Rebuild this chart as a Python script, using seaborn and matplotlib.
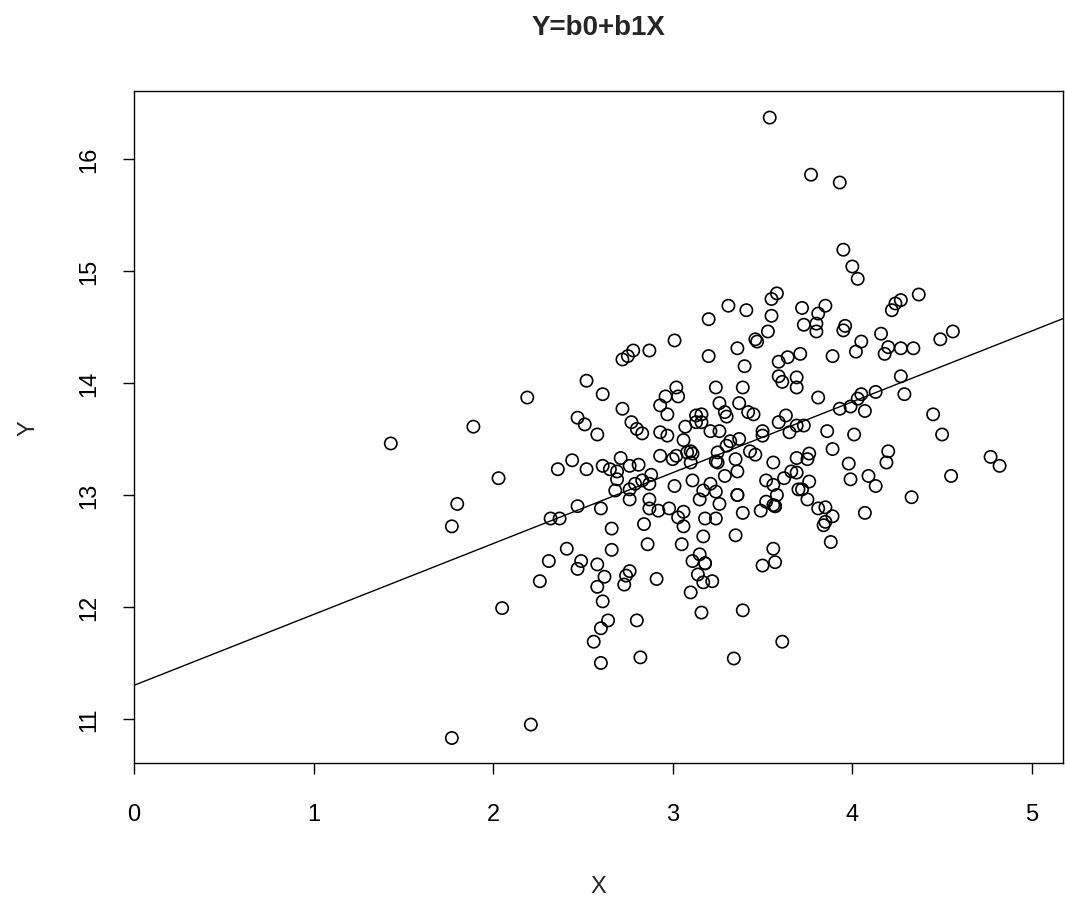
import numpy as np
import pandas as pd
import matplotlib
matplotlib.use("Agg")
import matplotlib.pyplot as plt
import seaborn as sns

# values
x = [3.54, 3.77, 3.93, 3.95, 4.00, 4.03, 4.37, 4.27, 4.24, 4.22,
     3.72, 3.85, 3.81, 3.73, 3.80, 3.80, 3.96, 3.95, 4.16, 4.56,
     4.49, 4.05, 4.02, 4.20, 4.18, 4.27, 4.34, 3.71, 3.89, 3.69,
     3.69, 3.81, 4.27, 4.29, 4.13, 4.05, 4.03, 3.99, 3.93, 4.07,
     4.45, 3.69, 3.73, 3.58, 3.55, 3.31, 3.41, 3.20, 3.55, 3.53,
     3.01, 3.46, 3.47, 2.78, 2.75, 2.72, 2.87, 3.20, 3.36, 3.40,
     3.64, 3.59, 2.52, 2.61, 3.02, 3.03, 2.96, 2.93, 3.24, 3.39,
     3.59, 3.61, 2.72, 2.97, 3.26, 3.29, 3.30, 3.37, 3.42, 3.45,
     3.13, 3.16, 3.13, 3.16, 2.77, 3.63, 3.59, 3.07, 2.19, 1.89,
     2.47, 2.51, 1.43, 2.03, 1.80, 1.77, 2.36, 2.44, 2.52, 2.47,
     2.32, 2.37, 2.41, 2.31, 2.49, 2.47, 2.26, 2.05, 2.21, 1.77,
     2.58, 2.62, 2.73, 2.91, 3.10, 3.17, 3.22, 2.61, 3.16, 3.39,
     2.64, 2.60, 2.80, 2.56, 3.61, 2.82, 3.34, 2.60, 2.58, 2.80,
     2.83, 2.93, 2.97, 3.06, 3.21, 3.26, 3.50, 3.50, 3.65, 3.32,
     3.37, 3.30, 3.43, 3.46, 2.93, 3.00, 3.02, 3.08, 3.10, 3.11,
     3.25, 3.24, 3.25, 3.35, 3.36, 3.56, 3.69, 2.61, 2.65, 2.71,
     2.69, 2.69, 2.76, 2.81, 3.10, 3.29, 3.11, 2.88, 2.87, 2.83,
     2.79, 2.76, 2.76, 2.68, 3.01, 3.21, 3.17, 3.24, 3.15, 3.26,
     3.36, 3.36, 3.52, 3.56, 3.62, 3.70, 3.58, 3.52, 3.56, 3.57,
     3.57, 3.49, 2.87, 2.87, 2.92, 2.98, 3.06, 3.03, 3.06, 3.39,
     3.18, 3.24, 2.60, 2.84, 2.66, 3.35, 3.17, 2.86, 3.05, 2.66,
     3.56, 3.57, 3.50, 3.15, 3.11, 3.18, 3.18, 2.58, 2.76, 2.74,
     3.14, 4.50, 3.86, 4.01, 3.89, 3.76, 3.75, 4.20, 4.19, 3.98,
     3.99, 4.09, 4.13, 3.69, 3.66, 4.77, 4.82, 4.55, 3.76, 3.72,
     3.75, 4.33, 3.81, 3.85, 3.89, 3.85, 3.84, 4.07, 3.88]
y = [16.37, 15.86, 15.79, 15.19, 15.04, 14.93, 14.79, 14.74, 14.71, 14.65,
     14.67, 14.69, 14.62, 14.52, 14.53, 14.46, 14.51, 14.47, 14.44, 14.46,
     14.39, 14.37, 14.28, 14.32, 14.26, 14.31, 14.31, 14.26, 14.24, 14.05,
     13.96, 13.87, 14.06, 13.90, 13.92, 13.90, 13.86, 13.79, 13.77, 13.75,
     13.72, 13.62, 13.62, 14.80, 14.75, 14.69, 14.65, 14.57, 14.60, 14.46,
     14.38, 14.39, 14.37, 14.29, 14.24, 14.21, 14.29, 14.24, 14.31, 14.15,
     14.23, 14.19, 14.02, 13.90, 13.96, 13.88, 13.88, 13.80, 13.96, 13.96,
     14.06, 14.01, 13.77, 13.72, 13.82, 13.74, 13.70, 13.82, 13.74, 13.72,
     13.71, 13.72, 13.65, 13.65, 13.65, 13.71, 13.65, 13.61, 13.87, 13.61,
     13.69, 13.63, 13.46, 13.15, 12.92, 12.72, 13.23, 13.31, 13.23, 12.90,
     12.79, 12.79, 12.52, 12.41, 12.41, 12.34, 12.23, 11.99, 10.95, 10.83,
     12.18, 12.27, 12.20, 12.25, 12.13, 12.22, 12.23, 12.05, 11.95, 11.97,
     11.88, 11.81, 11.88, 11.69, 11.69, 11.55, 11.54, 11.50, 13.54, 13.59,
     13.55, 13.56, 13.53, 13.49, 13.57, 13.57, 13.57, 13.53, 13.56, 13.48,
     13.50, 13.44, 13.39, 13.36, 13.35, 13.32, 13.35, 13.38, 13.39, 13.37,
     13.38, 13.30, 13.29, 13.32, 13.21, 13.29, 13.33, 13.26, 13.23, 13.33,
     13.21, 13.14, 13.26, 13.27, 13.29, 13.17, 13.13, 13.18, 13.10, 13.13,
     13.10, 13.05, 12.96, 13.04, 13.08, 13.10, 13.04, 13.03, 12.96, 12.92,
     13.00, 13.00, 13.13, 13.09, 13.15, 13.05, 13.00, 12.94, 12.91, 12.90,
     12.90, 12.86, 12.96, 12.88, 12.86, 12.88, 12.85, 12.80, 12.72, 12.84,
     12.79, 12.79, 12.88, 12.74, 12.70, 12.64, 12.63, 12.56, 12.56, 12.51,
     12.52, 12.40, 12.37, 12.47, 12.41, 12.39, 12.39, 12.38, 12.32, 12.28,
     12.29, 13.54, 13.57, 13.54, 13.41, 13.37, 13.32, 13.39, 13.29, 13.28,
     13.14, 13.17, 13.08, 13.20, 13.21, 13.34, 13.26, 13.17, 13.12, 13.05,
     12.96, 12.98, 12.88, 12.89, 12.81, 12.76, 12.73, 12.84, 12.58]

# fitted line as drawn in the reference
b0 = 11.30
b1 = 0.633

df = pd.DataFrame({"X": x, "Y": y})

sns.set_theme(style="ticks")
plt.rcParams["font.family"] = ["Liberation Sans", "DejaVu Sans"]

fig = plt.figure(figsize=(10.65, 9.04), dpi=100)
ax = fig.add_axes([0.1258, 0.1549, 0.8723, 0.7433])

sns.scatterplot(data=df, x="X", y="Y", ax=ax, marker="o", s=78,
                facecolors="none", edgecolor="black", linewidth=1.2)
ax.axline((0, b0), slope=b1, color="black", linewidth=1.0)

ax.set_xlim(0, 5.173)
ax.set_ylim(10.607, 16.607)
ax.set_xticks([0, 1, 2, 3, 4, 5])
ax.set_yticks([11, 12, 13, 14, 15, 16])
ax.tick_params(direction="out", length=8, width=1, colors="black",
               labelsize=17)
ax.tick_params(axis="x", pad=21)
ax.tick_params(axis="y", pad=16)
for lbl in ax.get_yticklabels():
    lbl.set_rotation(90)
    lbl.set_va("center")
for sp in ax.spines.values():
    sp.set_visible(True)
    sp.set_color("black")
    sp.set_linewidth(1.0)

ax.set_xlabel("X", fontsize=17, labelpad=36)
ax.set_ylabel("Y", fontsize=17, labelpad=28)
ax.set_title("Y=b0+b1X", fontsize=20, fontweight="bold", pad=41)

fig.savefig("out.png", dpi=100, facecolor="white")
